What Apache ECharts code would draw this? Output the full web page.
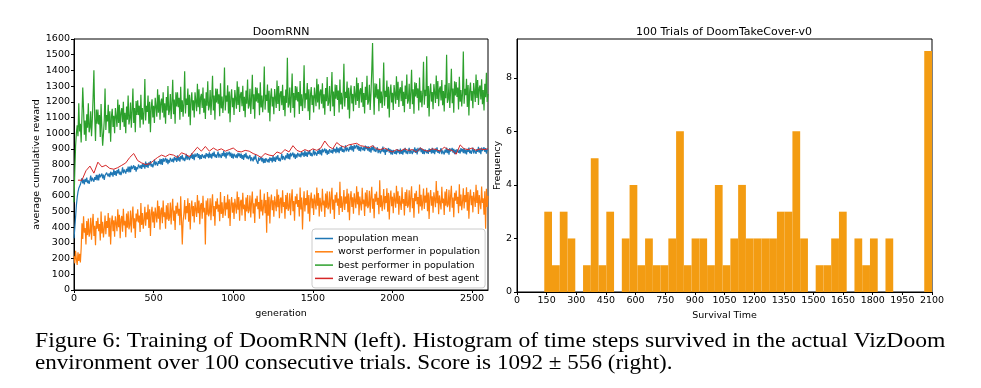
<!DOCTYPE html>
<html>
<head>
<meta charset="utf-8">
<script src="https://cdn.jsdelivr.net/npm/echarts@6/dist/echarts.min.js"></script>
<style>
html,body{margin:0;padding:0;background:#fff;}
#chart{width:981px;height:388px;}
</style>
</head>
<body>
<div id="chart"></div>
<script>
// ---------------- DATA ----------------
const GEN_STEP = 5;
const popMean = [
330,395,465,540,590,625,648,640,672,660,
713,679,703,673,709,689,717,681,699,677,
700,730,692,716,726,690,720,702,734,698,
734,698,740,718,706,742,712,736,702,730,
718,748,760,724,744,720,754,732,750,722,
768,734,758,728,764,744,772,736,754,732,
752,782,744,768,778,742,772,754,786,750,
787,751,793,771,759,795,765,789,755,783,
770,800,812,776,796,772,806,784,802,774,
818,784,808,778,814,794,822,786,804,782,
802,832,794,818,828,792,822,804,836,800,
834,798,840,818,806,842,812,836,802,830,
812,842,854,818,838,814,848,826,844,816,
858,824,848,818,854,834,862,826,844,822,
838,868,830,854,864,828,858,840,872,836,
864,828,870,848,836,872,842,866,832,860,
836,866,878,842,862,838,872,850,868,840,
878,844,868,838,874,854,882,846,864,842,
852,882,844,868,878,842,872,854,886,850,
874,838,880,858,846,882,852,876,842,870,
838,868,880,844,864,840,874,852,870,842,
870,836,860,830,866,846,874,838,856,834,
830,860,822,846,856,820,850,832,864,828,
840,804,846,824,812,848,818,842,808,836,
810,840,852,816,836,812,846,824,842,814,
856,822,846,816,852,832,860,824,842,820,
838,868,830,854,864,828,858,840,872,836,
868,832,874,852,840,876,846,870,836,864,
844,874,886,850,870,846,880,858,876,848,
888,854,878,848,884,864,892,856,874,852,
866,896,858,882,892,856,886,868,900,864,
894,858,900,878,866,902,872,896,862,890,
868,898,910,874,894,870,904,882,900,872,
913,879,903,873,909,889,917,881,899,877,
892,922,884,908,918,882,912,894,926,890,
918,882,924,902,890,926,896,920,886,914,
884,914,926,890,910,886,920,898,916,888,
916,882,906,876,912,892,920,884,902,880,
880,910,872,896,906,870,900,882,914,878,
897,861,903,881,869,905,875,899,865,893,
862,892,904,868,888,864,898,876,894,866,
902,868,892,862,898,878,906,870,888,866,
876,906,868,892,902,866,896,878,910,874,
900,864,906,884,872,908,878,902,868,896,
866,896,908,872,892,868,902,880,898,870,
906,872,896,866,902,882,910,874,892,870,
874,904,866,890,900,864,894,876,908,872,
898,862,904,882,870,906,876,900,866,894,
868,898,910,874,894,870,904,882,900,872,
904,870,894,864,900,880,908,872,890,868,
878,908,870,894,904,868,898,880,912,876,
902,866,908,886,874,910,880,904,870,898,
890
];
const worstPerf = [
215,170,250,195,160,240,185,230,175,265,
425,325,470,365,395,290,440,350,455,340,
365,460,320,420,485,345,410,285,440,390,
460,375,420,315,500,360,435,335,390,475,
355,440,395,490,340,460,290,430,475,375,
445,340,470,425,375,515,400,480,330,450,
472,372,517,412,442,337,487,397,502,387,
412,507,367,467,532,392,457,332,487,437,
515,430,475,370,555,415,490,390,445,530,
410,495,450,545,395,515,345,485,530,430,
500,395,525,480,430,570,455,535,385,505,
525,425,570,465,495,390,540,450,555,440,
462,557,417,517,582,442,507,382,537,487,
558,473,518,413,598,458,290,433,488,573,
450,535,490,585,435,555,385,525,570,470,
535,430,560,515,465,605,490,570,420,540,
555,455,600,495,525,290,570,480,585,470,
490,585,445,545,610,470,535,410,565,515,
584,499,544,439,624,484,559,459,514,599,
473,558,513,608,458,578,408,548,593,493,
557,452,582,537,487,627,512,592,442,562,
575,475,620,515,545,440,590,500,605,490,
508,603,463,563,628,488,553,428,583,533,
600,515,560,455,640,500,575,475,530,615,
489,574,365,624,474,594,424,564,609,509,
572,467,597,552,502,642,527,607,457,577,
590,490,635,530,560,455,605,515,620,505,
522,617,477,577,642,502,567,442,597,547,
614,529,574,469,654,514,589,385,544,629,
501,586,541,636,486,606,436,576,621,521,
583,478,608,563,513,653,538,618,468,588,
600,500,645,540,570,465,615,525,630,515,
532,627,487,587,652,512,577,452,607,557,
623,538,583,478,690,523,598,498,553,638,
510,595,550,645,495,615,445,585,630,530,
591,486,616,571,521,661,546,626,476,596,
607,507,652,547,577,472,622,532,637,522,
538,633,493,593,658,518,583,458,613,563,
628,543,588,483,700,528,603,503,558,643,
514,599,554,649,499,619,449,589,634,534,
595,490,620,575,525,665,550,630,480,600,
610,510,655,550,580,475,625,535,640,525,
541,636,496,596,661,521,586,461,616,566,
632,547,592,487,672,532,607,507,562,647,
517,602,557,652,502,622,452,592,637,537,
598,493,623,578,528,695,553,633,483,603,
613,513,658,553,583,478,628,538,643,528,
544,639,499,599,664,524,589,464,619,569,
634,549,594,489,674,534,609,509,564,649,
520,605,560,655,505,625,455,595,640,540,
600,495,625,580,530,670,555,635,485,605,
615,515,660,555,585,480,630,390,645,530,
600
];
const bestPerf = [
560,760,920,1000,1050,980,1190,1010,1060,940,
1110,1290,1150,990,1080,950,1120,1035,1190,1005,
1035,1140,980,1085,1230,1400,1105,950,1150,1060,
1150,1055,1115,975,1185,1025,920,995,1080,1285,
1020,1115,1075,1180,1000,1140,945,1105,1155,1040,
1110,1000,1160,1105,1040,1215,1065,1180,1020,1130,
1160,1070,1200,1040,1130,1000,1170,1085,1240,1055,
1090,1195,1035,1140,1285,1065,1160,1005,1205,1115,
1210,1115,1175,1035,1245,1085,1160,1055,1140,1345,
1080,1175,1135,1240,1060,1200,1005,1165,1215,1100,
1175,1065,1225,1170,1105,1280,1130,1245,1085,1195,
1220,1130,1260,1100,1190,1060,1230,1145,1300,1115,
1145,1250,1090,1195,1340,1120,1215,1060,1260,1170,
1260,1165,1225,1085,1295,1135,1210,1105,1190,1395,
1125,1220,1180,1285,1105,1245,1050,1210,1260,1145,
1210,1100,1260,1205,1140,1315,1165,1280,1120,1230,
1250,1160,1290,1130,1220,1090,1260,1175,1330,1145,
1170,1275,1115,1220,1365,1145,1240,1085,1285,1195,
1283,1188,1248,1108,1318,1158,1233,1128,1213,1418,
1145,1240,1200,1305,1125,1265,1070,1230,1280,1165,
1225,1115,1275,1220,1155,1330,1180,1295,1135,1245,
1262,1172,1302,1142,1232,1102,1272,1187,1342,1157,
1177,1282,1122,1227,1372,1152,1247,1092,1292,1202,
1289,1194,1254,1114,1324,1164,1239,1134,1219,1424,
1150,1245,1205,1310,1130,1270,1075,1235,1285,1170,
1231,1121,1281,1226,1161,1336,1186,1301,1141,1251,
1268,1178,1308,1148,1238,1108,1278,1193,1480,1163,
1185,1290,1130,1235,1380,1160,1255,1100,1300,1210,
1297,1202,1262,1122,1332,1172,1247,1142,1227,1432,
1159,1254,1214,1319,1139,1279,1084,1244,1294,1179,
1241,1131,1291,1236,1171,1346,1196,1311,1151,1261,
1278,1188,1318,1158,1248,1118,1288,1203,1358,1173,
1195,1300,1140,1245,1390,1170,1265,1110,1310,1220,
1307,1212,1272,1132,1342,1182,1257,1152,1237,1442,
1169,1264,1224,1329,1149,1289,1094,1254,1304,1189,
1250,1140,1300,1245,1180,1355,1205,1320,1160,1270,
1286,1196,1326,1166,1256,1126,1296,1211,1366,1181,
1203,1308,1148,1253,1398,1575,1273,1118,1318,1228,
1315,1220,1280,1140,1350,1190,1265,1160,1245,1450,
1175,1270,1230,1335,1155,1295,1100,1260,1310,1195,
1257,1147,1307,1252,1187,1362,1212,1327,1167,1277,
1293,1203,1333,1173,1263,1133,1303,1218,1373,1188,
1209,1314,1154,1259,1404,1184,1279,1124,1324,1234,
1320,1225,1285,1145,1355,1195,1270,1165,1250,1455,
1181,1276,1236,1490,1161,1301,1106,1266,1316,1201,
1262,1152,1312,1257,1192,1367,1217,1332,1172,1282,
1298,1208,1338,1178,1268,1138,1308,1223,1500,1193,
1215,1320,1160,1265,1410,1190,1285,1130,1330,1240,
1325,1230,1290,1150,1360,1200,1275,1170,1255,1520,
1187,1282,1242,1347,1167,1307,1112,1272,1322,1207,
1269,1159,1319,1264,1199,1374,1224,1339,1179,1289,
1304,1214,1344,1184,1274,1144,1314,1229,1384,1199,
1250
];
// average reward of best agent, evaluated every RED_STEP generations from RED_START
const RED_START = 25, RED_STEP = 25;
const bestAgentAvg = [
700,700,760,790,745,815,785,795,775,770,780,795,
810,845,870,825,810,800,805,825,845,860,850,865,
860,845,875,865,850,880,910,885,915,885,905,890,
900,885,895,905,885,880,890,885,870,860,845,870,
860,855,880,870,895,880,920,890,880,895,885,900,
890,905,950,915,900,940,920,910,925,930,935,920,
915,905,920,900,895,905,890,880,895,885,900,890,
895,880,905,890,885,900,895,885,910,895,890,865,
925,900,895,905,890,900,895,900
];
const leftXTicks = [0,500,1000,1500,2000,2500];
const legendNames = ['population mean','worst performer in population','best performer in population','average reward of best agent'];

// Right chart: histogram of survival time, 50 equal bins from HIST_MIN to HIST_MAX
const HIST_MIN = 138, HIST_MAX = 2100;
const histCounts = [
3,1,3,2,0,1,5,1,3,0,
2,4,1,2,1,1,2,6,1,2,
2,1,4,1,2,4,2,2,2,2,
3,3,6,2,0,1,1,2,3,0,
2,1,2,0,2,0,0,0,0,9
];
const rightYTicks = [0,2,4,6,8];

const captionLines = [
  'Figure 6: Training of DoomRNN (left). Histogram of time steps survived in the actual VizDoom',
  'environment over 100 consecutive trials. Score is 1092 \u00b1 556 (right).'
];
const captionScale = [1.125, 1.1];

// ---------------- BUILD ----------------
const toPairs = (arr, start, step) => arr.map((v, i) => [start + i * step, v]);
const binW = (HIST_MAX - HIST_MIN) / histCounts.length;
const histData = histCounts.map((c, i) => [HIST_MIN + i * binW, HIST_MIN + (i + 1) * binW, c]);

const FONT = 'DejaVu Sans';
const plain = v => String(v);
const tickFont = {fontFamily: FONT, fontSize: 9.5, color: '#000', formatter: plain};
const nameFont = {fontFamily: FONT, fontSize: 9.5, color: '#000'};
const axisLineStyle = {show: true, lineStyle: {color: '#000', width: 1}};
const tickStyle = {show: true, inside: false, length: 3, lineStyle: {color: '#000', width: 1}};

const chart = echarts.init(document.getElementById('chart'), null, {renderer: 'canvas'});
const lineCommon = {type: 'line', xAxisIndex: 0, yAxisIndex: 0, showSymbol: false, symbol: 'none',
  sampling: null, silent: true, animation: false, z: 2};

chart.setOption({
  animation: false,
  backgroundColor: '#fff',
  title: [
    {text: 'DoomRNN', left: 281, top: 27, textAlign: 'center', padding: 0,
     textStyle: {fontFamily: FONT, fontSize: 11, fontWeight: 'normal', color: '#000'}},
    {text: '100 Trials of DoomTakeCover-v0', left: 724, top: 27, textAlign: 'center', padding: 0,
     textStyle: {fontFamily: FONT, fontSize: 11, fontWeight: 'normal', color: '#000'}}
  ],
  grid: [
    {left: 74, top: 39, width: 414, height: 251, show: true, borderColor: '#000', borderWidth: 1, containLabel: false},
    {left: 517, top: 39, width: 415, height: 253, show: true, borderColor: '#000', borderWidth: 1, containLabel: false}
  ],
  xAxis: [
    {type: 'value', gridIndex: 0, min: 0, max: 2600, interval: 500,
     name: 'generation', nameLocation: 'middle', nameGap: 11, nameTextStyle: nameFont,
     axisLine: axisLineStyle, splitLine: {show: false},
     axisTick: Object.assign({customValues: leftXTicks}, tickStyle),
     axisLabel: Object.assign({margin: 4, customValues: leftXTicks}, tickFont)},
    {type: 'value', gridIndex: 1, min: 0, max: 2100, interval: 150,
     name: 'Survival Time', nameLocation: 'middle', nameGap: 10, nameTextStyle: nameFont,
     axisLine: axisLineStyle, splitLine: {show: false},
     axisTick: tickStyle,
     axisLabel: Object.assign({margin: 4}, tickFont)}
  ],
  yAxis: [
    {type: 'value', gridIndex: 0, min: 0, max: 1600, interval: 100,
     name: 'average cumulative reward', nameLocation: 'middle', nameGap: 28, nameRotate: 90,
     nameTextStyle: nameFont,
     axisLine: axisLineStyle, splitLine: {show: false},
     axisTick: tickStyle,
     axisLabel: Object.assign({margin: 4}, tickFont)},
    {type: 'value', gridIndex: 1, min: 0, max: 9.45,
     name: 'Frequency', nameLocation: 'middle', nameGap: 11, nameRotate: 90,
     nameTextStyle: nameFont,
     axisLine: axisLineStyle, splitLine: {show: false},
     axisTick: Object.assign({customValues: rightYTicks}, tickStyle),
     axisLabel: Object.assign({margin: 5, customValues: rightYTicks}, tickFont)}
  ],
  legend: {
    data: legendNames, orient: 'vertical', left: 312, top: 229,
    icon: 'rect', itemWidth: 18, itemHeight: 1.5, itemGap: 2.3,
    textStyle: {fontFamily: FONT, fontSize: 9.5, color: '#000', lineHeight: 11},
    padding: [4, 5, 4, 3], backgroundColor: 'rgba(255,255,255,0.8)',
    borderColor: '#cccccc', borderWidth: 1, borderRadius: 3, selectedMode: false
  },
  graphic: captionLines.map((t, i) => ({
    type: 'text', x: 35, y: 331 + i * 22, scaleX: captionScale[i], silent: true,
    style: {text: t, font: '21px "Liberation Serif"', fill: '#000', align: 'left', verticalAlign: 'top'}
  })),
  series: [
    Object.assign({}, lineCommon, {name: legendNames[0], data: toPairs(popMean, 0, GEN_STEP),
      color: '#1f77b4', lineStyle: {color: '#1f77b4', width: 1.2}}),
    Object.assign({}, lineCommon, {name: legendNames[1], data: toPairs(worstPerf, 0, GEN_STEP),
      color: '#ff7f0e', lineStyle: {color: '#ff7f0e', width: 1.2}}),
    Object.assign({}, lineCommon, {name: legendNames[2], data: toPairs(bestPerf, 0, GEN_STEP),
      color: '#2ca02c', lineStyle: {color: '#2ca02c', width: 1.2}}),
    Object.assign({}, lineCommon, {name: legendNames[3], data: toPairs(bestAgentAvg, RED_START, RED_STEP),
      color: '#d62728', lineStyle: {color: '#d62728', width: 1}}),
    {
      type: 'custom', xAxisIndex: 1, yAxisIndex: 1, silent: true, animation: false,
      data: histData, encode: {x: [0, 1], y: 2},
      renderItem: function (params, api) {
        const p0 = api.coord([api.value(0), api.value(2)]);
        const p1 = api.coord([api.value(1), 0]);
        return {type: 'rect', shape: {x: p0[0], y: p0[1], width: p1[0] - p0[0], height: p1[1] - p0[1]},
          style: {fill: '#f39c12', stroke: null}};
      }
    }
  ]
});
</script>
</body>
</html>
